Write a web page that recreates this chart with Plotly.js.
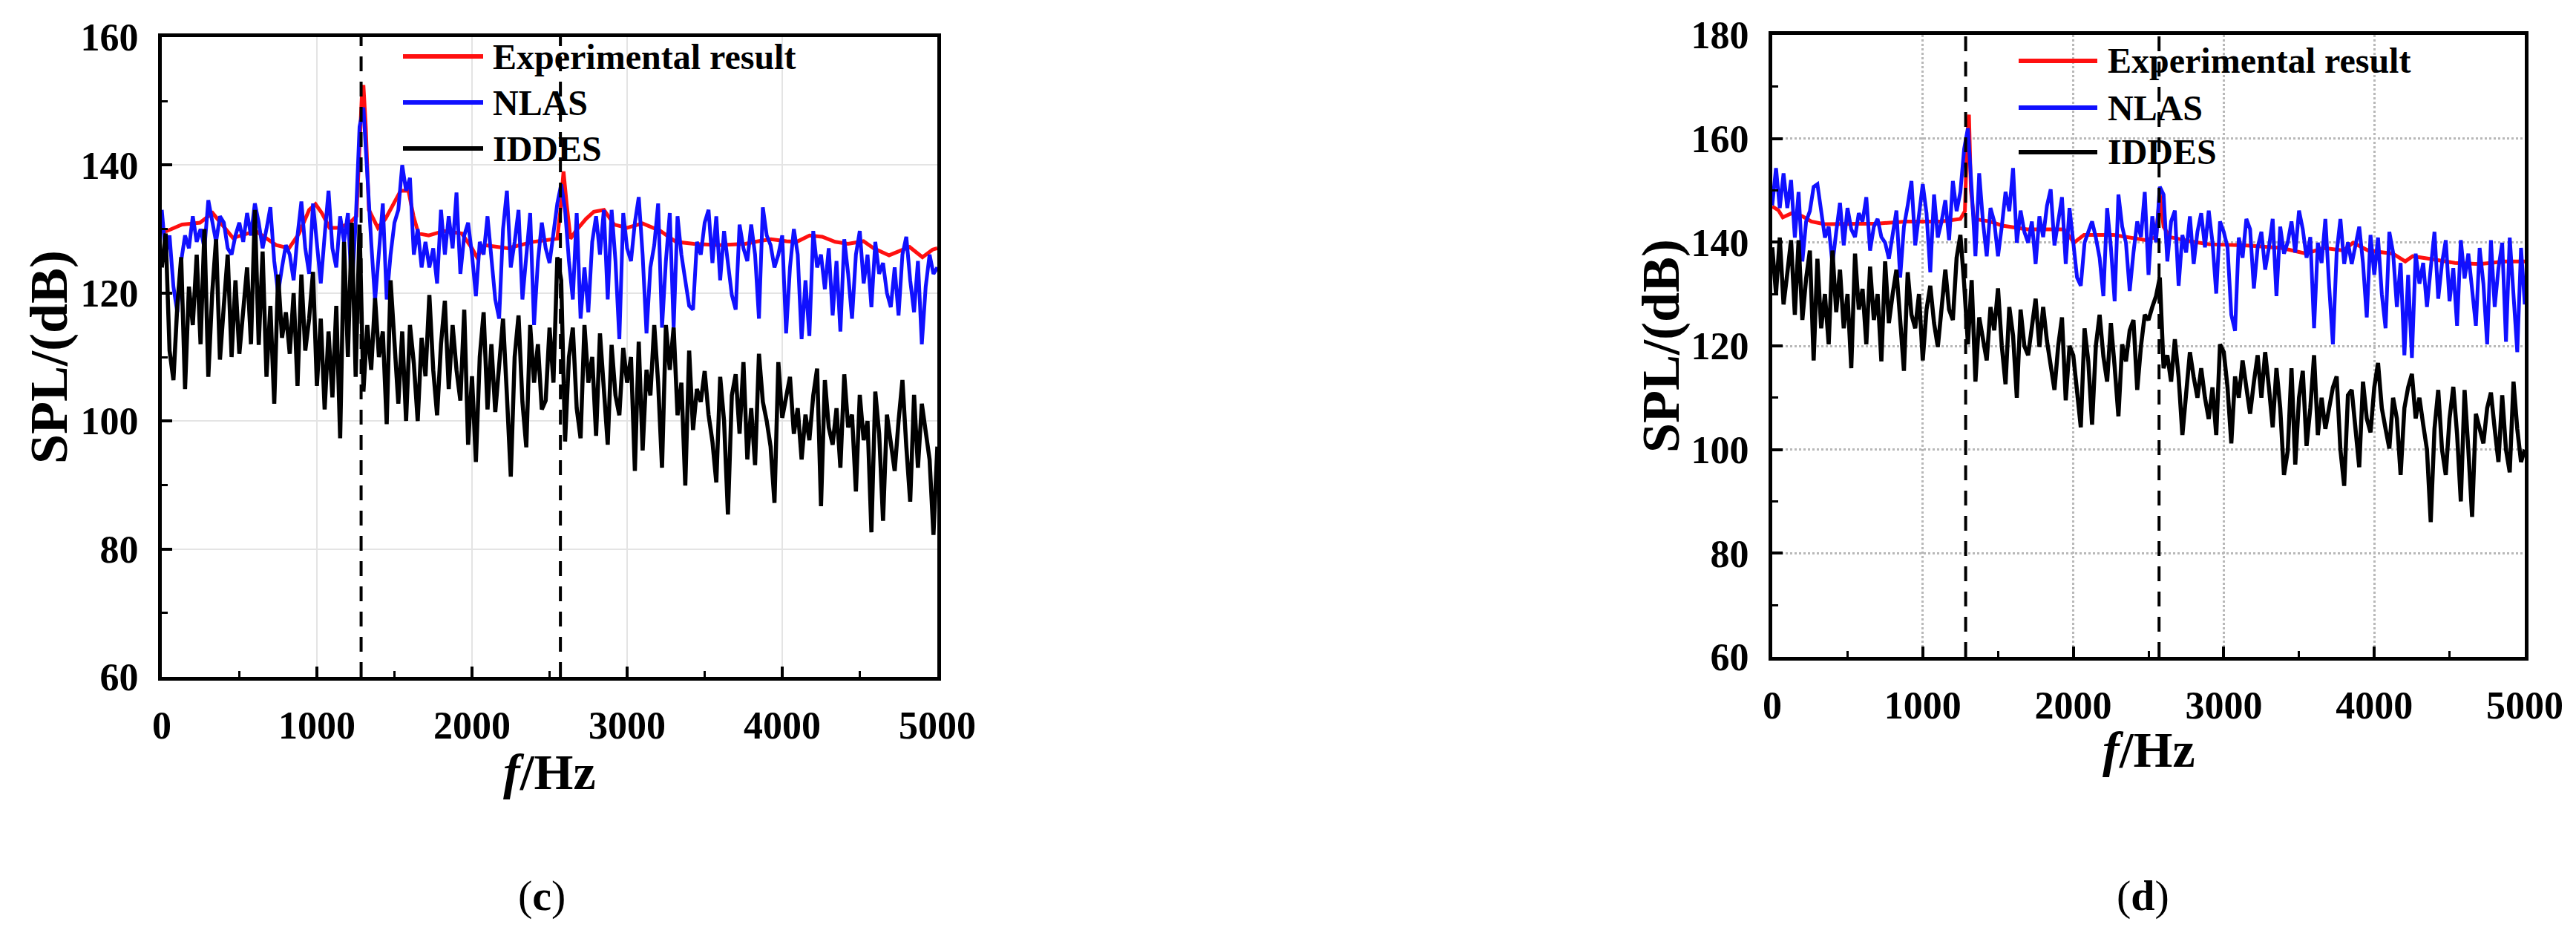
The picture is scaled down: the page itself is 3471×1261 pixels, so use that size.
<!DOCTYPE html>
<html>
<head>
<meta charset="utf-8">
<script src="https://cdn.plot.ly/plotly-3.0.1.min.js"></script>
<style>
  html, body { margin: 0; padding: 0; background: #fff; }
  #plot { width: 3471px; height: 1261px; }
</style>
</head>
<body>
<div id="plot"></div>
<script>
// frequency bins (Hz) shared by the NLAS / IDDES spectra
var freqHz = [
  0,25,50,75,100,125,150,175,200,225,250,275,300,325,350,375,400,425,450,475,
  500,525,550,575,600,625,650,675,700,725,750,775,800,825,850,875,900,925,950,975,
  1000,1025,1050,1075,1100,1125,1150,1175,1200,1225,1250,1275,1300,1325,1350,1375,1400,1425,1450,1475,
  1500,1525,1550,1575,1600,1625,1650,1675,1700,1725,1750,1775,1800,1825,1850,1875,1900,1925,1950,1975,
  2000,2025,2050,2075,2100,2125,2150,2175,2200,2225,2250,2275,2300,2325,2350,2375,2400,2425,2450,2475,
  2500,2525,2550,2575,2600,2625,2650,2675,2700,2725,2750,2775,2800,2825,2850,2875,2900,2925,2950,2975,
  3000,3025,3050,3075,3100,3125,3150,3175,3200,3225,3250,3275,3300,3325,3350,3375,3400,3425,3450,3475,
  3500,3525,3550,3575,3600,3625,3650,3675,3700,3725,3750,3775,3800,3825,3850,3875,3900,3925,3950,3975,
  4000,4025,4050,4075,4100,4125,4150,4175,4200,4225,4250,4275,4300,4325,4350,4375,4400,4425,4450,4475,
  4500,4525,4550,4575,4600,4625,4650,4675,4700,4725,4750,4775,4800,4825,4850,4875,4900,4925,4950,4975,
  5000
];

// ---- panel (c) ----
var expHzC = [0,33,131,246,328,459,606,737,820,885,950,991,1032,1082,1147,1213,1255,1275,1290,1300,
  1315,1335,1393,1442,1491,1540,1590,1623,1655,1721,1819,1934,2000,2032,2081,2229,2393,2491,2550,2570,
  2590,2610,2635,2669,2735,2785,2851,2917,3000,3099,3215,3315,3430,3596,3762,3845,3927,4027,4093,4176,
  4258,4341,4424,4524,4590,4689,4755,4821,4904,4970,5000];
var expC = [129.5,129.7,130.7,131,132.5,128.6,129.7,127.5,127,129.3,133,133.9,132.5,130.2,130.2,131,132,142,151,152.5,
  146,133,130.2,131.6,133.9,136,136,132,129.3,129,129.7,129.3,127,125.6,127.5,127,128,128.4,128.5,133,
  139,134,128.5,129.7,131.6,132.7,133,130.7,130.2,130.9,129.7,128,127.7,127.5,127.7,128.1,128.4,128.1,128,129,
  128.8,128,127.7,128.1,127,125.9,126.5,127.2,125.6,126.8,127];

var nlasC = [
  133,126,129,121,117,125,129,127,132,128,130,127,134.5,131,128,132,131,127,126,129,
  131,128,132.5,129,134,131,127,130,133.4,125,120,124,127.5,126,122,129,134.3,127,123,134,
  128,121.5,129,136,127,124,132,128,132.5,120.5,131,146,149,138,128,118.8,127,134,119,126,
  131,133,140,136,138,126,130,124,128,124,127,121.5,133,126,132,127,135.7,123,129,131,
  126,119.5,128,126,132,125,119,116,130,136,124,128,133,119,126,132.5,115,125,131,127,
  124.7,129,134,137,133,125,119,132.5,116,124,117,128,132,126,133,119,133,125,112.8,132.5,
  127,125,131,135,126,113.7,124,127.5,134,114.6,125,132.5,114.6,132,126,122,118,117.4,128,126,
  131,133,124.7,132,122,129.7,125,119.7,117.4,130.7,127,125,130.7,126,116,133.4,129,127.5,124,126,
  129,113.7,124,130,126,112.8,122,113.3,129.7,124,126,120.6,127,116.5,125,114,128.4,123,116,126,
  129.7,121.5,126,117.8,128,123,124.7,120,117.8,124,116.5,126,128.8,122,117,125,112,121,126,123,
  124
];

var iddesC = [
  124,129.3,111,106.4,118,125.6,105,121,115,126,112,130,106.9,120,128.4,109.6,118,126,110,122,
  110.5,117,124,112,133,111.9,126.5,106.9,118,102.7,122.9,113,117,110.5,120,105.5,122.9,111,116,123.3,
  105.5,116,101.8,114,103.7,118,97.3,128,110,131,106.9,130.7,104.6,115,108,119.2,110,114,99.5,122,
  112,102.7,114,100,115,109,100,113,107,119.7,108,100.9,112,118.8,105,115,108,103.2,117.4,96.3,
  107,93.6,110,117,101.8,112,101.4,108,116,104,91.3,110,116.5,103,95.9,115,106,112,101.8,103.2,
  114.6,106,125.6,122,96.8,110,114.6,102,97.3,115,106,110,97.7,113.7,105,96.3,111.9,104,100.9,111.4,
  106,110,92.2,112.4,95.4,108,104,115,106,92.7,115,108,114.6,100.9,106,89.9,111,98.6,105,103,
  107.8,101,96.8,90.4,106.9,100,85.4,104,107.3,98,109.2,94,102,93.1,110.5,103,100,96,87.2,109.2,
  100.5,104,106.9,98,102,94,101,97,104,108.2,86.7,106.4,99,96.3,102,92.7,107.3,99,101,89,
  104.1,97,100,82.6,104.6,98,84.4,101,97,92.2,100,106.4,96,87.4,104.1,92.7,102.7,98,94,82.2,
  96
];

// ---- panel (d) ----
var expHzD = [0,40,70,130,200,260,346,500,700,888,1000,1118,1250,1280,1295,1307,1320,1340,1447,1529,
  1693,1939,2005,2071,2268,2481,2550,2575,2600,2641,2773,2904,3135,3382,3547,3662,3794,3860,3959,4123,
  4206,4255,4370,4535,4700,4864,5000];
var expD = [146.9,146.2,144.8,145.6,145,144,143.5,143.6,143.6,144,144,144,144.5,146,160,164.6,150,144.5,144,143.2,
  142.5,142.5,139.9,141.4,141.4,140.4,141,149.2,143,141,140.2,139.6,139.4,138.9,137.8,138.9,138.4,139.9,138.4,137.8,
  136.3,137.3,136.8,136,135.8,136.3,136.3];

var nlasD = [
  147.1,154.3,146.6,153.3,146.6,152,140.9,149.7,136.3,144,146,150.7,151.2,145.6,140.9,143,135.8,142,147.6,139.4,
  146.6,142.5,141,145.6,144,148.7,138.4,143,144.5,141,139.9,136.8,141,146.1,133.2,143,147.1,151.8,139.4,145,
  151.2,145.6,134.2,149.2,140.9,144,148.1,140.4,151.8,146,149.7,158,162,150.2,137.3,153.3,144,137.3,146.6,144,
  137.3,143,149.7,146,154.3,139.9,146.1,142,139.9,144,135.8,145,141,147,150.2,139.4,144,148.7,135.8,146.6,
  140,133.2,131.6,139.9,142,144,140.9,137,129.6,146.6,139,128.6,149.2,143,139.9,130.6,138,144,141,149.7,
  133.7,145,140,150.7,149.2,136.3,144,146.1,131.6,141.4,138,145,135.8,142,145.6,139,146.1,140,130.1,144,
  142,139,126,122.9,140.9,137,144.5,142.5,131.1,139,142,134.7,139,144.5,129.6,143,137.8,140,144,138,
  146.1,142.5,137,141,123.4,139.9,136,144.5,131.6,120.3,138,144.5,135.8,140,135.8,139,143,136,125.5,141.4,
  133.7,140.9,130,123.4,142,138,127.5,136,118.2,133.7,117.7,137.8,132,136,127.5,135,142,129.1,136,140.4,
  128.6,135,123.9,140.4,133,137.8,131,123.9,138.9,132,120.3,140.4,127.5,135,139.9,120.8,140.9,130,118.8,138.9,
  128
];

var iddesD = [
  139,130.1,140.9,128,134,140.4,126,140.4,125,133,138.4,117.2,136.8,123.4,130,120.3,138.4,126.5,134.7,123.4,
  130,115.7,137.8,127,131,120.3,135.3,125,130,117,136.3,124.4,130,134.7,125,115.2,134.2,126,123.4,130,
  117.2,127,131.6,124.4,119.8,128,134.7,127,125,137,141.4,132,120.3,132.7,113.1,125.5,121,117.2,127.5,123,
  131.1,120,112.6,127.5,122,110,127,120,118.2,124,129.1,119.8,127.5,121,115.7,111.5,120,125.5,109.5,120,
  118.2,112,104.3,123.4,117,104.8,120,126,118,113.1,124.4,116,106.4,120.3,117,123,125,111.5,120,126,
  125,127.5,129.6,133.2,115.7,118.2,113.1,121.3,114,102.8,112,118.8,114,110,115.7,110,105.9,112,102.8,120.3,
  118.8,112,101.2,114.1,110,117.2,112,106.9,113,118.2,110,118.8,112,104.3,115.7,108,95.1,99.7,115.7,97.1,
  110,115.2,100.7,108,118.2,102.8,110,104,108,112,114.1,100,93,110.5,111.5,104,96.6,113.1,106,103.3,
  112,116.7,108,104,100.2,110,106,95.1,108,112,114.6,106,110,104.8,100,86,104,111.5,100,95.1,
  106,112.1,103,90,111.5,100,87,106.9,104,101.2,108,111,104,97.6,110.5,100,95.6,113.1,104,97.6,
  100
];

// vertical reference lines (fundamental and second harmonic)
var harmonicHz = [1285, 2570];

var seriesNames = ['Experimental result', 'NLAS', 'IDDES'];
var seriesColors = ['#ff1010', '#1010ff', '#000000'];

var W = 3471, H = 1261;
var FONT = '"Liberation Serif", "Times New Roman", serif';

function px(x, y) { return {x: x / W, y: 1 - y / H}; }

var traces = [
  {x: expHzC, y: expC, xaxis: 'x', yaxis: 'y', line: {color: seriesColors[0], width: 5}},
  {x: freqHz, y: nlasC, xaxis: 'x', yaxis: 'y', line: {color: seriesColors[1], width: 5}},
  {x: freqHz, y: iddesC, xaxis: 'x', yaxis: 'y', line: {color: seriesColors[2], width: 5.5}},
  {x: expHzD, y: expD, xaxis: 'x2', yaxis: 'y2', line: {color: seriesColors[0], width: 5}},
  {x: freqHz, y: nlasD, xaxis: 'x2', yaxis: 'y2', line: {color: seriesColors[1], width: 5}},
  {x: freqHz, y: iddesD, xaxis: 'x2', yaxis: 'y2', line: {color: seriesColors[2], width: 5.5}}
];
traces.forEach(function (t, i) {
  t.type = 'scatter';
  t.mode = 'lines';
  t.name = seriesNames[i % 3];
  t.showlegend = false;
});

function axisBase(range, dtick, minorDtick, grid) {
  return {
    range: range,
    dtick: dtick,
    tick0: 0,
    showline: true,
    linecolor: '#000',
    linewidth: 5,
    mirror: true,
    ticks: 'inside',
    ticklen: 14,
    tickwidth: 4,
    tickcolor: '#000',
    ticklabelstandoff: 16,
    tickfont: {family: FONT, size: 52, color: '#000', weight: 'bold'},
    showgrid: true,
    gridcolor: grid.color,
    gridwidth: grid.width,
    griddash: grid.dash,
    zeroline: false,
    minor: {ticks: 'inside', ticklen: 8, tickwidth: 3, tickcolor: '#000', dtick: minorDtick, showgrid: false}
  };
}

var gridC = {color: '#e4e4e4', width: 2, dash: 'solid'};
var gridD = {color: '#b8b8b8', width: 3, dash: 'dot'};

// plot boxes in page pixels: [left, top, right, bottom]
var boxC = [218, 50, 1263, 912];
var boxD = [2388, 47, 3402, 885];

var xa = axisBase([0, 5000], 1000, 500, gridC);
xa.domain = [boxC[0] / W, boxC[2] / W];
xa.anchor = 'y';
var ya = axisBase([60, 160], 20, 10, gridC);
ya.domain = [1 - boxC[3] / H, 1 - boxC[1] / H];
ya.anchor = 'x';
var xa2 = axisBase([0, 5000], 1000, 500, gridD);
xa2.domain = [boxD[0] / W, boxD[2] / W];
xa2.anchor = 'y2';
var ya2 = axisBase([60, 180], 20, 10, gridD);
ya2.domain = [1 - boxD[3] / H, 1 - boxD[1] / H];
ya2.anchor = 'x2';

var shapes = [];
harmonicHz.forEach(function (f) {
  shapes.push({type: 'line', xref: 'x', yref: 'y domain', x0: f, x1: f, y0: 0, y1: 1,
    line: {color: '#000', width: 4, dash: '20px,14px'}});
  shapes.push({type: 'line', xref: 'x2', yref: 'y2 domain', x0: f, x1: f, y0: 0, y1: 1,
    line: {color: '#000', width: 4, dash: '20px,14px'}});
});

var annotations = [];
function text(x, y, s, size, opts) {
  var p = px(x, y);
  var a = {xref: 'paper', yref: 'paper', x: p.x, y: p.y, text: s, showarrow: false,
    font: {family: FONT, size: size, color: '#000'}, xanchor: 'center', yanchor: 'middle'};
  for (var k in opts) a[k] = opts[k];
  annotations.push(a);
}

// hand-drawn legends (long line samples like the original)
function legend(x0, x1, xt, rows) {
  rows.forEach(function (yy, i) {
    var a = px(x0, yy), b = px(x1, yy);
    shapes.push({type: 'line', xref: 'paper', yref: 'paper', x0: a.x, x1: b.x, y0: a.y, y1: b.y,
      line: {color: seriesColors[i], width: 6}});
    text(xt, yy, '<b>' + seriesNames[i] + '</b>', 48, {xanchor: 'left'});
  });
}
legend(543, 651, 662, [76, 138, 200]);
legend(2720, 2826, 2838, [82, 145, 205]);

// axis titles
text(66, 481, '<b>SPL/(dB)</b>', 72, {textangle: -90});
text(2238, 466, '<b>SPL/(dB)</b>', 72, {textangle: -90});
text(740, 1040, '<b><i>f</i>/Hz</b>', 68, {});
text(2895, 1010, '<b><i>f</i>/Hz</b>', 68, {});

// panel labels
text(730, 1206, '(<b>c</b>)', 58, {});
text(2887, 1206, '(<b>d</b>)', 58, {});

var layout = {
  width: W,
  height: H,
  margin: {l: 0, r: 0, t: 0, b: 0},
  paper_bgcolor: '#fff',
  plot_bgcolor: '#fff',
  showlegend: false,
  xaxis: xa,
  yaxis: ya,
  xaxis2: xa2,
  yaxis2: ya2,
  shapes: shapes,
  annotations: annotations
};

Plotly.newPlot('plot', traces, layout, {staticPlot: true, displayModeBar: false});
</script>
</body>
</html>
